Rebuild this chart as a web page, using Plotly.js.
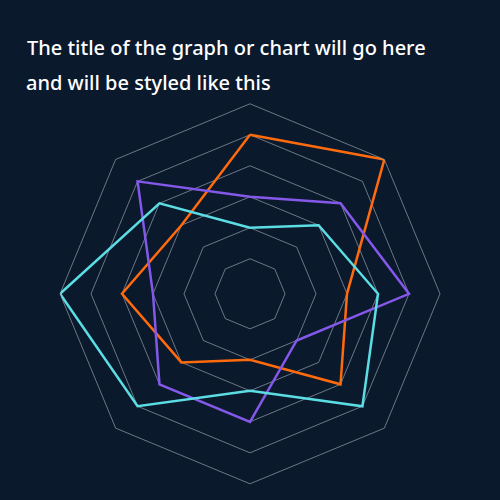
<!DOCTYPE html>
<html>
<head>
<meta charset="utf-8">
<script src="https://cdn.plot.ly/plotly-3.0.1.min.js"></script>
<style>
  html, body { margin: 0; padding: 0; background: #0a192c; }
  #chart { width: 500px; height: 500px; }
</style>
</head>
<body>
<div id="chart"></div>
<script>
// eight spokes, clockwise from the top
const categories = ['A', 'B', 'C', 'D', 'E', 'F', 'G', 'H'];
const ringValues = [1, 2, 3, 4, 5, 6];

const orangeValues = [5, 6, 3, 4, 2, 3, 4, 3];
const purpleValues = [3, 4, 5, 2, 4, 4, 3, 5];
const cyanValues = [2, 3, 4, 5, 3, 5, 6, 4];

const titleLines = [
    'The title of the graph or chart will go here',
    'and will be styled like this',
];

const closeLoop = (arr) => arr.concat([arr[0]]);

const makeTrace = (values, name, color) => ({
    type: 'scatterpolar',
    mode: 'lines',
    r: closeLoop(values),
    theta: closeLoop(categories),
    name: name,
    line: {
        color: color,
        width: 2.5,
    },
    hoverinfo: 'skip',
});

const data = [
    makeTrace(orangeValues, 'Orange', '#ff6a0d'),
    makeTrace(purpleValues, 'Purple', '#8458e8'),
    makeTrace(cyanValues, 'Cyan', '#5cdde4'),
];

const titleFont = {
    family: 'Noto Sans, sans-serif',
    size: 20,
    color: '#ffffff',
    weight: 500,
};

const gridColor = 'rgba(190,196,205,0.55)';

const layout = {
    width: 500,
    height: 500,
    showlegend: false,
    paper_bgcolor: '#0a192c',
    plot_bgcolor: '#0a192c',
    margin: {l: 0, r: 0, t: 0, b: 0},
    title: {
        text: titleLines[0],
        font: titleFont,
        x: 0.054,
        xanchor: 'left',
        xref: 'paper',
        y: 0.904,
        yanchor: 'middle',
        yref: 'container',
    },
    annotations: [{
        text: titleLines[1],
        font: titleFont,
        xref: 'paper',
        yref: 'paper',
        x: 0.048,
        xanchor: 'left',
        y: 0.836,
        yanchor: 'middle',
        showarrow: false,
    }],
    polar: {
        domain: {x: [0.12, 0.88], y: [0.0324, 0.7924]},
        bgcolor: 'rgba(0,0,0,0)',
        gridshape: 'linear',
        radialaxis: {
            range: [-0.13, 6],
            tickvals: ringValues,
            showticklabels: false,
            ticks: '',
            showline: false,
            gridcolor: gridColor,
            gridwidth: 1,
        },
        angularaxis: {
            rotation: 90,
            direction: 'clockwise',
            showgrid: false,
            showticklabels: false,
            ticks: '',
            showline: true,
            linecolor: gridColor,
            linewidth: 1,
        },
    },
};

Plotly.newPlot('chart', data, layout, {displayModeBar: false, staticPlot: true});
</script>
</body>
</html>
